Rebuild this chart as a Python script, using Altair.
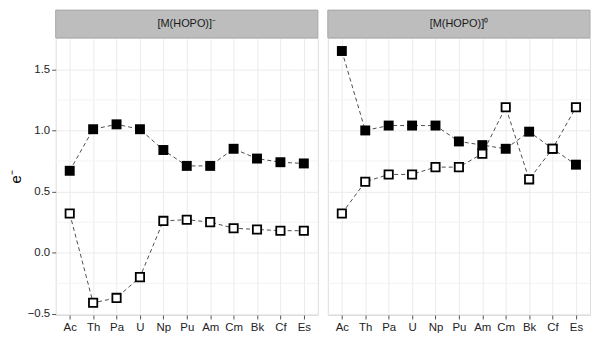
import altair as alt
import pandas as pd

elements = ["Ac", "Th", "Pa", "U", "Np", "Pu", "Am", "Cm", "Bk", "Cf", "Es"]
anion_filled = [0.67, 1.01, 1.05, 1.01, 0.84, 0.71, 0.71, 0.85, 0.77, 0.74, 0.73]
anion_open = [0.32, -0.41, -0.37, -0.20, 0.26, 0.27, 0.25, 0.20, 0.19, 0.18, 0.18]
neutral_filled = [1.65, 1.00, 1.04, 1.04, 1.04, 0.91, 0.88, 0.85, 0.99, 0.85, 0.72]
neutral_open = [0.32, 0.58, 0.64, 0.64, 0.70, 0.70, 0.81, 1.19, 0.60, 0.85, 1.19]
panel_labels = ["[M(HOPO)]\u207b", "[M(HOPO)]\u2070"]
y_major = [-0.5, 0.0, 0.5, 1.0, 1.5]
y_minor = [-0.25, 0.25, 0.75, 1.25]
y_domain = [-0.51, 1.757]

FONT = "Liberation Sans"
W = 264
H = 279
STRIP = 28

ys = alt.Scale(domain=y_domain, nice=False, zero=False)
xs = alt.Scale(type="point", padding=0.6, domain=elements)


def panel(label, filled, open_, show_y):
    df = pd.DataFrame({
        "element": elements * 2,
        "value": filled + open_,
        "series": ["filled"] * len(elements) + ["open"] * len(elements),
    })
    if show_y:
        yaxis = alt.Axis(values=y_major, format=".1f", title="e\u207b",
                         titleFontSize=15, titleFontWeight="normal",
                         titleColor="black", titlePadding=4, titleFont=FONT,
                         labelFontSize=11.5, labelColor="#222222", labelFont=FONT,
                         tickSize=4, tickColor="#555555", labelPadding=2,
                         domain=False, grid=True, gridColor="#EBEBEB",
                         minExtent=28, maxExtent=28)
    else:
        yaxis = alt.Axis(values=y_major, title=None, labels=False, ticks=False,
                         domain=False, grid=True, gridColor="#EBEBEB",
                         minExtent=0, maxExtent=0)
    xaxis = alt.Axis(title=None, labelAngle=0, labelFontSize=11.5,
                     labelColor="#222222", labelFont=FONT, tickSize=4,
                     tickColor="#555555", labelPadding=3, domain=False,
                     grid=True, gridColor="#EBEBEB")

    minor = alt.Chart(pd.DataFrame({"value": y_minor})).mark_rule(
        color="#F3F3F3", strokeWidth=1
    ).encode(y=alt.Y("value:Q", scale=ys, axis=yaxis))

    base = alt.Chart(df).encode(
        x=alt.X("element:N", sort=elements, scale=xs, axis=xaxis),
        y=alt.Y("value:Q", scale=ys, axis=yaxis),
    )
    lines = base.mark_line(strokeDash=[4, 3], color="#222222",
                           strokeWidth=0.8).encode(detail="series:N")
    pts_f = base.transform_filter(alt.datum.series == "filled").mark_point(
        shape="square", filled=True, color="black", size=100, opacity=1)
    pts_o = base.transform_filter(alt.datum.series == "open").mark_point(
        shape="square", fill="white", stroke="black", strokeWidth=1.8,
        size=70, opacity=1)

    lab = pd.DataFrame({"label": [label]})
    strip = alt.Chart(lab).mark_rect(
        fill="#BDBDBD", stroke="#A8A8A8", strokeWidth=1
    ).encode(x=alt.value(0), x2=alt.value(W), y=alt.value(-STRIP), y2=alt.value(0))
    strip_text = alt.Chart(lab).mark_text(
        fontSize=11, font=FONT, color="#1a1a1a", baseline="middle", align="center"
    ).encode(x=alt.value(W / 2), y=alt.value(-STRIP / 2 + 0.5), text="label:N")

    return alt.layer(minor, lines, pts_f, pts_o, strip, strip_text).properties(
        width=W, height=H)


left = panel(panel_labels[0], anion_filled, anion_open, True)
right = panel(panel_labels[1], neutral_filled, neutral_open, False)

chart = alt.hconcat(left, right, spacing=8).properties(
    padding=0
).configure_view(stroke="#A8A8A8", strokeWidth=1.2).configure(
    background="white"
)

chart.save("out.html", embed_options={"renderer": "svg", "actions": False})
